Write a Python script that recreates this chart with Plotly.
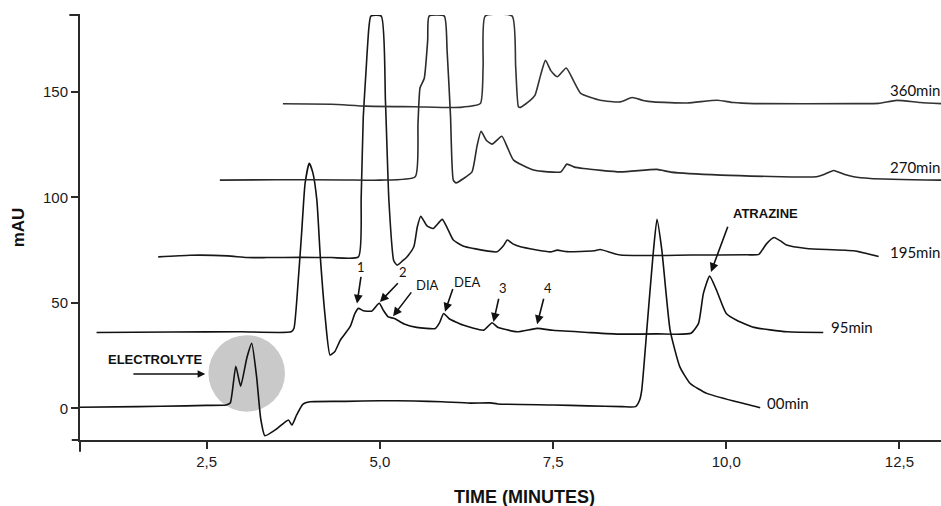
import plotly.graph_objects as go

# ---------------- data ----------------
t_00 = [0.67, 1.5, 2.2, 2.5, 2.78, 2.84, 2.92, 2.99, 3.08, 3.15, 3.22, 3.28, 3.34, 3.5, 3.68, 3.73, 3.8, 3.89, 3.99,
        4.5, 5.0, 5.5, 5.9, 6.3, 6.6, 6.7, 7.5, 8.0, 8.5, 8.69, 8.75, 8.78, 8.86, 8.94, 9.0, 9.07, 9.13, 9.19, 9.33,
        9.48, 9.72, 10.15, 10.49]
y_00 = [0.5, 0.8, 1.2, 1.4, 1.6, 2.5, 20, 10.5, 24, 30.8, 15, -5, -13, -10, -5.5, -7.9, -3, 2.0, 3.1,
        3.3, 3.6, 3.5, 3.1, 2.5, 2.6, 2.1, 1.6, 1.2, 0.8, 0.8, 4, 8.7, 40, 71.5, 89.6, 75, 55, 37, 19.7,
        11.8, 7.1, 3.1, 0.3]

t_95 = [0.91, 2.0, 3.0, 3.72, 3.76, 3.82, 3.87, 3.92, 3.98, 4.03, 4.09, 4.14, 4.21, 4.28, 4.35, 4.43, 4.57, 4.64,
        4.69, 4.76, 4.88, 4.99, 5.05, 5.12, 5.21, 5.35, 5.53, 5.8, 5.86, 5.92, 6.0, 6.2, 6.5, 6.62, 6.7, 6.98,
        7.27, 7.5, 8.0, 8.47, 9.0, 9.49, 9.6, 9.67, 9.76, 9.86, 10.0, 10.15, 10.4, 10.88, 11.4]
y_95 = [36, 36.2, 36.3, 36.3, 38, 60, 83, 106.6, 116.2, 112, 98.7, 71.8, 43.4, 25.3, 27, 32.4, 38.7, 45,
        47.4, 46.3, 46.1, 49.8, 46.5, 43.4, 42.6, 40, 38.4, 37.9, 40.5, 45, 42.5, 39.5, 37.1, 40.6, 38.5, 36.3,
        37.9, 37, 36, 35.2, 35.3, 35.6, 40.3, 54.5, 62.7, 56, 45, 41.8, 38.4, 36.3, 36]

t_195 = [1.8, 2.26, 2.8, 3.08, 3.37, 3.85, 4.3, 4.69, 4.73, 4.76, 4.8, 4.84, 4.87, 5.02, 5.08, 5.13, 5.2, 5.25,
         5.33, 5.39, 5.49, 5.54, 5.59, 5.68, 5.77, 5.9, 5.98, 6.06, 6.2, 6.35, 6.69, 6.78, 6.84, 6.92, 7.03,
         7.46, 7.56, 7.7, 8.09, 8.18, 8.47, 9.5, 10.3, 10.47, 10.58, 10.69, 10.8, 10.87, 11.16, 11.84, 12.2]
y_195 = [71.8, 72.6, 72.3, 71.5, 71.5, 71.6, 71.5, 71.8, 100, 138, 160, 180, 186, 186, 146, 98.7, 70, 67.9,
         70, 71.8, 76.6, 86, 91.1, 86.5, 85.3, 89.6, 85, 79.8, 77, 75.8, 74.2, 77, 79.8, 78, 76.6,
         74.2, 75, 74.3, 74.7, 75.3, 72.7, 72.7, 72.8, 73, 78, 81, 79, 77.4, 75.8, 74.7, 72]

t_270 = [2.69, 3.5, 4.5, 5.0, 5.51, 5.55, 5.58, 5.64, 5.69, 5.71, 5.93, 5.97, 6.02, 6.06, 6.1, 6.21, 6.33, 6.4,
         6.46, 6.54, 6.62, 6.76, 6.85, 6.93, 7.22, 7.61, 7.7, 7.8, 7.94, 8.47, 9.0, 9.2, 9.92, 11.3, 11.42,
         11.55, 11.7, 11.84, 12.08, 13.1]
y_270 = [108.2, 108.4, 108.3, 108.2, 109.8, 135, 152, 156.4, 174.5, 186, 186, 169.8, 138.2, 108.2, 106.9, 109,
         112.1, 124, 131.4, 127, 125.3, 129, 123, 117.7, 113, 112.1, 115.8, 114.5, 113.7, 112.1, 113.3, 112,
         110.6, 109.8, 111, 112.8, 111, 109.8, 109, 108.2]

t_360 = [3.6, 4.3, 4.8, 5.5, 6.16, 6.45, 6.49, 6.52, 6.91, 6.96, 7.0, 7.03, 7.17, 7.24, 7.32, 7.39, 7.47, 7.56,
         7.69, 7.8, 7.9, 8.18, 8.47, 8.64, 8.8, 8.95, 9.44, 9.87, 10.1, 10.4, 11.84, 12.2, 12.46, 12.8, 13.1]
y_360 = [144.4, 144.2, 143.3, 143, 142.7, 144.5, 162, 186, 186, 162, 143, 142.7, 146, 148.5, 158, 165, 160,
         157.2, 161.4, 155, 149.3, 146.1, 145.3, 147.4, 146, 145.3, 144.8, 146.1, 145, 144.5, 144.5, 144.6,
         146.0, 145, 144.5]

x_tickvals = [2.5, 5.0, 7.5, 10.0, 12.5]
x_ticktext = ["2,5", "5,0", "7,5", "10,0", "12,5"]
y_tickvals = [0, 50, 100, 150]

trace_names = ["00min", "95min", "195min", "270min", "360min"]
trace_label_pos = [(10.56, 2.4), (11.49, 38.7), (12.34, 74.2), (12.33, 114.2), (12.33, 150.8)]

# peak annotations: text, text position, arrow tail, arrow tip
peak_labels = ["1", "2", "DIA", "DEA", "3", "4"]
peak_text_pos = [(4.73, 67.1), (5.34, 64.6), (5.69, 58.4), (6.26, 60.0), (6.77, 56.9), (7.42, 56.9)]
peak_arrow_tail = [(4.73, 63.0), (5.28, 60.0), (5.47, 55.7), (6.06, 57.3), (6.72, 52.7), (7.37, 52.7)]
peak_arrow_tip = [(4.67, 49.7), (5.0, 50.4), (5.19, 43.7), (5.94, 45.8), (6.64, 41.0), (7.27, 39.9)]

# ---------------- figure ----------------
fig = go.Figure()

series = [(t_00, y_00, "#111111"), (t_95, y_95, "#111111"), (t_195, y_195, "#181818"),
          (t_270, y_270, "#2a2a2a"), (t_360, y_360, "#333333")]
for (tx, ty, col), name in zip(series, trace_names):
    fig.add_trace(go.Scatter(x=tx, y=ty, mode="lines", name=name,
                             line=dict(color=col, width=1.6, shape="spline", smoothing=0.5),
                             showlegend=False, hoverinfo="skip"))

# grey circle around the electrolyte peaks
fig.add_shape(type="circle", xref="x", yref="y", x0=2.525, x1=3.63, y0=-1.56, y1=34.7,
              fillcolor="#c9c9c9", line=dict(width=0), layer="below")

# axis line extensions (crossing style)
axcol = "#2a2a2a"
fig.add_shape(type="line", xref="paper", yref="paper", x0=0, x1=0, y0=0, y1=-0.0275,
              line=dict(color=axcol, width=2))
fig.add_shape(type="line", xref="paper", yref="paper", x0=-0.0096, x1=0, y0=0, y1=0,
              line=dict(color=axcol, width=2))
fig.add_shape(type="line", xref="paper", yref="paper", x0=-0.0124, x1=0, y0=1, y1=1,
              line=dict(color=axcol, width=2))

label_font = dict(family="Lato, Open Sans, sans-serif", size=15, color="#111111")
for name, (lx, ly) in zip(trace_names, trace_label_pos):
    fig.add_annotation(x=lx, y=ly, text=name, showarrow=False, xanchor="left", yanchor="middle",
                       font=label_font)

peak_font = dict(family="Lato, Open Sans, sans-serif", size=13, color="#111111")
for lab, (tx, ty), (ax_, ay_), (px, py) in zip(peak_labels, peak_text_pos, peak_arrow_tail, peak_arrow_tip):
    fig.add_annotation(x=tx, y=ty, text=lab, showarrow=False, xanchor="center", yanchor="middle",
                       font=peak_font)
    fig.add_annotation(x=px, y=py, ax=ax_, ay=ay_, axref="x", ayref="y", text="", showarrow=True,
                       arrowhead=2, arrowsize=1.1, arrowwidth=1.6, arrowcolor="#111111")

bold_font = dict(family="Liberation Sans, Arial, sans-serif", size=13, color="#111111", weight="bold")
fig.add_annotation(x=10.56, y=92.4, text="ATRAZINE", showarrow=False, font=bold_font)
fig.add_annotation(x=9.78, y=64.7, ax=10.03, ay=86.8, axref="x", ayref="y", text="", showarrow=True,
                   arrowhead=2, arrowsize=1.1, arrowwidth=1.6, arrowcolor="#111111")
fig.add_annotation(x=1.75, y=23.4, text="ELECTROLYTE", showarrow=False, font=bold_font)
fig.add_annotation(x=2.48, y=16.3, ax=1.42, ay=16.3, axref="x", ayref="y", text="", showarrow=True,
                   arrowhead=2, arrowsize=1.1, arrowwidth=1.4, arrowcolor="#111111")

# x axis title as paper annotation
fig.add_annotation(xref="paper", yref="paper", x=0.516, y=-0.1333, text="TIME (MINUTES)", showarrow=False,
                   xanchor="center", yanchor="middle",
                   font=dict(family="Liberation Sans, Arial, sans-serif", size=18, color="#111111",
                             weight="bold"))

tick_font = dict(family="Liberation Sans, Arial, sans-serif", size=15, color="#1a1a1a")
fig.update_xaxes(range=[0.671, 13.10], showline=True, linecolor=axcol, linewidth=2, mirror=False,
                 ticks="outside", ticklen=7, tickwidth=2, tickcolor=axcol,
                 tickvals=x_tickvals, ticktext=x_ticktext, tickfont=tick_font,
                 showgrid=False, zeroline=False)
fig.update_yaxes(range=[-15.0, 186.5], showline=True, linecolor=axcol, linewidth=2,
                 ticks="outside", ticklen=7, tickwidth=2, tickcolor=axcol,
                 tickvals=y_tickvals, tickfont=tick_font, showgrid=False, zeroline=False,
                 title=dict(text="mAU", standoff=14,
                            font=dict(family="Liberation Sans, Arial, sans-serif", size=17,
                                      color="#111111", weight="bold")))

fig.update_layout(width=941, height=506, paper_bgcolor="white", plot_bgcolor="white",
                  margin=dict(l=80, r=0, t=15, b=66), showlegend=False)

fig.write_html("out.html", config={"displayModeBar": False},
               post_script="document.body.style.margin='0px';document.body.style.overflow='hidden';")
